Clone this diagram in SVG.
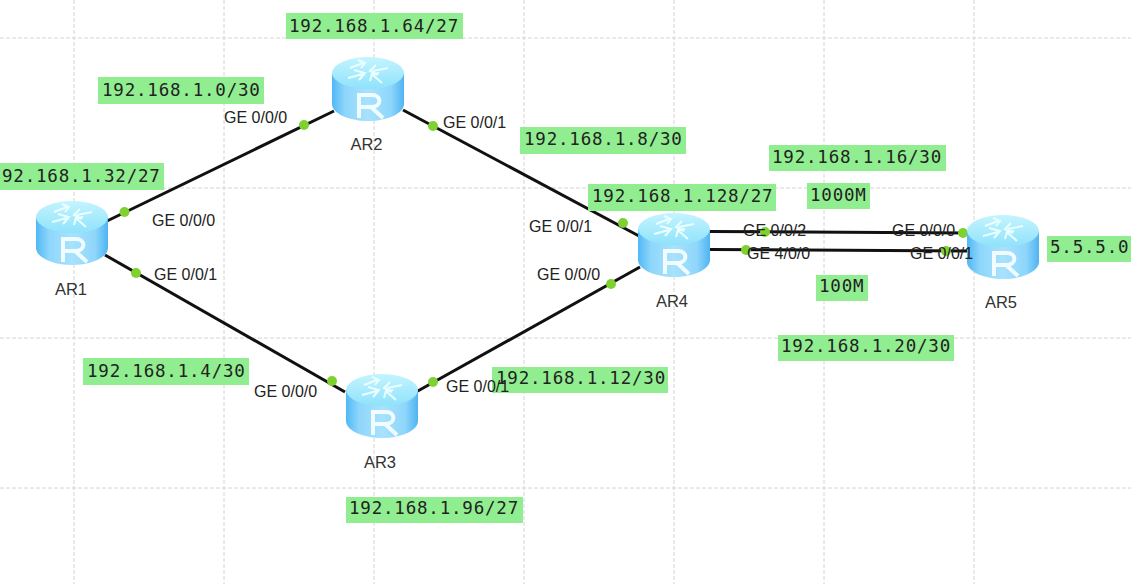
<svg xmlns="http://www.w3.org/2000/svg" width="1131" height="584" viewBox="0 0 1131 584">
<style>
.grid{stroke:#d4d4d4;stroke-width:1;stroke-dasharray:4 2;fill:none}
.link{stroke:#111;stroke-width:3;fill:none}
.dot{fill:#7fd132}
.bg{fill:#90ee90}
.net{font-family:"DejaVu Sans Mono",monospace;font-size:17.500px;fill:#222;letter-spacing:.800px}
.port{font-family:"Liberation Sans",Arial,sans-serif;font-size:16px;fill:#222;letter-spacing:0}
.name{font-family:"Liberation Sans",Arial,sans-serif;font-size:16.500px;fill:#333;text-anchor:middle}
</style>
<defs>
<linearGradient id="side" x1="0" x2="1" y1="0" y2="0">
<stop offset="0" stop-color="#4fb8f5"/><stop offset=".18" stop-color="#8ed6fb"/><stop offset=".5" stop-color="#a8e2fd"/><stop offset=".82" stop-color="#8ed6fb"/><stop offset="1" stop-color="#4fb4f2"/>
</linearGradient>
<linearGradient id="top" x1="0" x2="0" y1="0" y2="1">
<stop offset="0" stop-color="#c4f4ff"/><stop offset="1" stop-color="#8fe2fb"/>
</linearGradient>
<symbol id="router" viewBox="0 0 72 64" width="72" height="64" overflow="visible">
<path d="M0 16V47C0 56 16 64 36 64S72 56 72 47V16Z" fill="url(#side)"/>
<ellipse cx="36" cy="16" rx="36" ry="16" fill="url(#top)"/>
<g fill="none" stroke="#eaffff" stroke-width="2">
<path d="M18 11L31 6M26 3L33 6L29 11"/>
<path d="M56 11L41 14M44 8L38 14L46 18"/>
<path d="M16 21L31 17M22 13L33 16L27 23"/>
<path d="M50 26L41 18M38 24L40 17L47 16"/>
</g>
<path d="M27 61V38H40C50 38 50 50 39 50H27M39 50L51 61" fill="none" stroke="#f0fcff" stroke-width="4"/>
</symbol>
</defs>
<rect width="1131" height="584" fill="#fff"/>
<g id="grid">
<path class="grid" d="M74 0V584M224 0V584M374 0V584M524 0V584M674 0V584M824 0V584M974 0V584M0 38H1131M0 188H1131M0 338H1131M0 488H1131"/>
</g>
<g id="connectors">
<path class="link" d="M107 221L334 111"/>
<path class="link" d="M105 255L345 392"/>
<path class="link" d="M403 110L639 236"/>
<path class="link" d="M416 392L640 267"/>
<path class="link" d="M710 231.500L968 233"/>
<path class="link" d="M710 249.500L968 251"/>
<circle class="dot" cx="124.500" cy="212" r="5"/>
<circle class="dot" cx="136" cy="273" r="5"/>
<circle class="dot" cx="304" cy="125" r="5"/>
<circle class="dot" cx="433" cy="126" r="5"/>
<circle class="dot" cx="332" cy="381" r="5"/>
<circle class="dot" cx="433" cy="382" r="5"/>
<circle class="dot" cx="623" cy="223" r="5"/>
<circle class="dot" cx="611" cy="284" r="5"/>
<circle class="dot" cx="765" cy="232" r="5"/>
<circle class="dot" cx="746" cy="250" r="5"/>
<circle class="dot" cx="963" cy="233" r="5"/>
<circle class="dot" cx="946" cy="251" r="5"/>
</g>
<g id="AR1"><use href="#router" x="36" y="201"/><text class="name" x="71" y="295">AR1</text></g>
<g id="AR2"><use href="#router" x="332" y="57"/><text class="name" x="366.500" y="150">AR2</text></g>
<g id="AR3"><use href="#router" x="346" y="374"/><text class="name" x="380" y="468">AR3</text></g>
<g id="AR4"><use href="#router" x="638" y="213"/><text class="name" x="672" y="307">AR4</text></g>
<g id="AR5"><use href="#router" x="967" y="215"/><text class="name" x="1001" y="308">AR5</text></g>
<g id="labels">
<rect class="bg" x="286" y="13" width="177" height="26"/><text class="net" x="289" y="32">192.168.1.64/27</text>
<rect class="bg" x="98" y="77" width="166" height="27"/><text class="net" x="102" y="96">192.168.1.0/30</text>
<rect class="bg" x="520" y="127" width="166" height="27"/><text class="net" x="524" y="145">192.168.1.8/30</text>
<rect class="bg" x="769" y="145" width="177" height="26"/><text class="net" x="772" y="163">192.168.1.16/30</text>
<rect class="bg" x="0" y="163" width="164" height="27"/><text class="net" x="2" y="182">92.168.1.32/27</text>
<rect class="bg" x="588" y="184" width="188" height="27"/><text class="net" x="592" y="202">192.168.1.128/27</text>
<rect class="bg" x="807" y="183" width="63" height="26"/><text class="net" x="810" y="201">1000M</text>
<rect class="bg" x="1047" y="236" width="84" height="26"/><text class="net" x="1050" y="253">5.5.5.0</text>
<rect class="bg" x="816" y="275" width="52" height="26"/><text class="net" x="819" y="292">100M</text>
<rect class="bg" x="778" y="335" width="176" height="26"/><text class="net" x="781" y="352">192.168.1.20/30</text>
<rect class="bg" x="83" y="358" width="166" height="27"/><text class="net" x="87" y="377">192.168.1.4/30</text>
<rect class="bg" x="492" y="367" width="176" height="26"/><text class="net" x="496" y="384">192.168.1.12/30</text>
<rect class="bg" x="346" y="497" width="177" height="26"/><text class="net" x="349" y="514">192.168.1.96/27</text>
</g>
<g id="ports">
<text class="port" x="224" y="123">GE 0/0/0</text>
<text class="port" x="443" y="128">GE 0/0/1</text>
<text class="port" x="152" y="226">GE 0/0/0</text>
<text class="port" x="154" y="280">GE 0/0/1</text>
<text class="port" x="254" y="397">GE 0/0/0</text>
<text class="port" x="446" y="392">GE 0/0/1</text>
<text class="port" x="529" y="232">GE 0/0/1</text>
<text class="port" x="537" y="280">GE 0/0/0</text>
<text class="port" x="743" y="236">GE 0/0/2</text>
<text class="port" x="747" y="259">GE 4/0/0</text>
<text class="port" x="892" y="236">GE 0/0/0</text>
<text class="port" x="910" y="259">GE 0/0/1</text>
</g>
</svg>
